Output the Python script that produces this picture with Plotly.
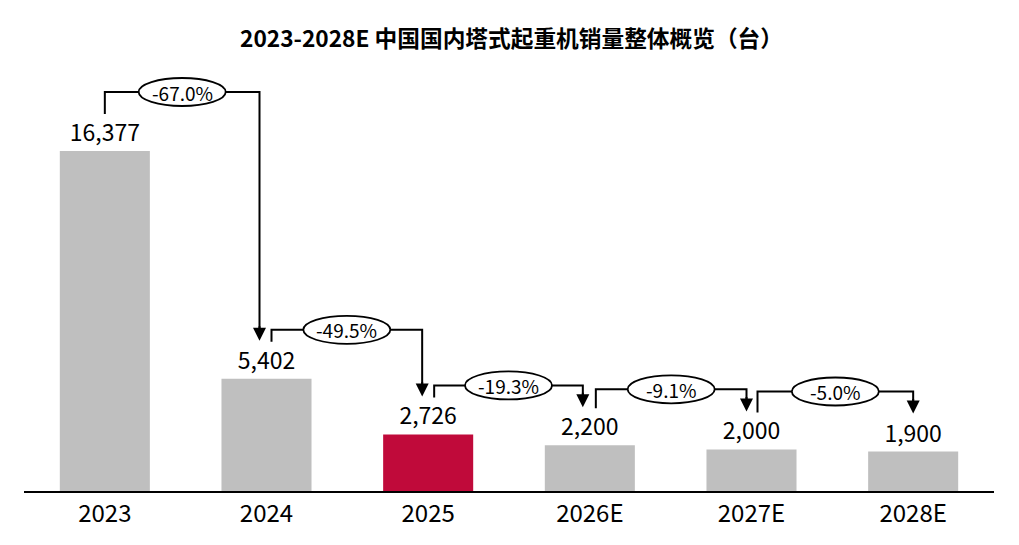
import plotly.graph_objects as go

categories = ["2023", "2024", "2025", "2026E", "2027E", "2028E"]
sales = [16377, 5402, 2726, 2200, 2000, 1900]
growth_labels = ["-67.0%", "-49.5%", "-19.3%", "-9.1%", "-5.0%"]
title_text = "2023-2028E 中国国内塔式起重机销量整体概览（台）"

GRAY = "#BFBFBF"
RED = "#C00A3A"
colors = [RED if c == "2025" else GRAY for c in categories]

OFF = 8  # page offset of the figure in the screenshot
W, H = 1019, 545
ML, MR, MT, MB = 24 - OFF, 25 + OFF, 60 - OFF, 54 + OFF
plot_h = H - MT - MB
plot_w = W - ML - MR
YMAX = 16377 * plot_h / 340.0
k = YMAX / plot_h            # data units per pixel (y)
kx = 6.0 / plot_w            # category units per pixel (x)

FONT = "Noto Sans CJK SC"

fig = go.Figure()
fig.add_trace(go.Bar(
    x=list(range(len(categories))), y=sales,
    marker=dict(color=colors, line=dict(width=0)),
    width=90 / 161.6,
    text=[f"{v:,}" for v in sales],
    textposition="outside",
    textfont=dict(family=FONT, size=23, color="black"),
    cliponaxis=False,
    hoverinfo="skip",
))

# connector geometry (pixel offsets)
start_dx = [0, 5, 6, 6, 6]
end_dx = [-7, -6, -7, -5, 0]
level_gap = [59, 49, 49, 56, 58]
start_gap = 37
tip_gap = 38

shapes = []
annotations = []
for i, lab in enumerate(growth_labels):
    x0 = i + start_dx[i] * kx
    x1 = i + 1 + end_dx[i] * kx
    y_start = sales[i] + start_gap * k
    y_level = sales[i] + level_gap[i] * k
    y_tip = sales[i + 1] + tip_gap * k
    shapes.append(dict(type="path", xref="x", yref="y",
                       path=f"M{x0},{y_start} L{x0},{y_level} L{x1},{y_level} L{x1},{y_tip + 6 * k}",
                       line=dict(color="black", width=2), layer="above"))
    annotations.append(dict(x=x1, y=y_tip, xref="x", yref="y",
                            ax=x1, ay=y_tip + 16 * k, axref="x", ayref="y",
                            showarrow=True, arrowhead=2, arrowsize=1.3, arrowwidth=2,
                            arrowcolor="black", text=""))
    xm = (x0 + x1) / 2
    shapes.append(dict(type="circle", xref="x", yref="y",
                       xsizemode="pixel", ysizemode="pixel",
                       xanchor=xm, yanchor=y_level,
                       x0=-43.5, x1=43.5, y0=-14, y1=14,
                       fillcolor="white", line=dict(color="black", width=1.8),
                       layer="above"))
    annotations.append(dict(x=xm, y=y_level, xref="x", yref="y", showarrow=False,
                            text=lab, font=dict(family=FONT, size=19, color="black")))

annotations.append(dict(x=(511 - OFF - ML) / plot_w, y=1 + (MT - (37 - OFF)) / plot_h,
                        xref="paper", yref="paper", showarrow=False,
                        text=f"<b>{title_text}</b>", font=dict(family=FONT, size=22.7, color="black"),
                        xanchor="center", yanchor="middle"))

fig.update_layout(
    width=W, height=H,
    margin=dict(l=ML, r=MR, t=MT, b=MB),
    plot_bgcolor="white", paper_bgcolor="white",
    showlegend=False,
    shapes=shapes,
    annotations=annotations,
    xaxis=dict(tickmode="array", tickvals=list(range(len(categories))), ticktext=categories,
               range=[-0.5, len(categories) - 0.5],
               showline=True, linecolor="black", linewidth=2, ticks="", showgrid=False,
               zeroline=False, tickfont=dict(family=FONT, size=24, color="black")),
    yaxis=dict(range=[0, YMAX], visible=False, showgrid=False, zeroline=False),
)

fig.write_html("out.html")
